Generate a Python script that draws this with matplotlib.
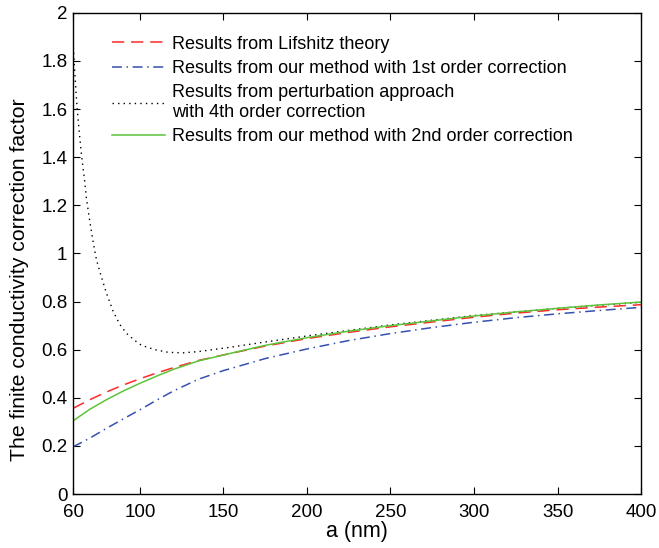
import numpy as np
import matplotlib
matplotlib.use('Agg')
import matplotlib.pyplot as plt

plt.rcParams['font.family'] = ['Liberation Sans', 'DejaVu Sans']

# Lifshitz theory, our method (1st and 2nd order) on a common grid
a = [60, 70, 80, 90, 100, 110, 120, 135, 150, 175, 200, 225, 250, 275, 300, 325, 350, 375, 400]
lifshitz = [0.356, 0.392, 0.424, 0.453, 0.479, 0.503, 0.525, 0.555, 0.578, 0.615, 0.646,
            0.672, 0.695, 0.715, 0.735, 0.752, 0.766, 0.777, 0.787]
first_order = [0.196, 0.232, 0.273, 0.312, 0.350, 0.390, 0.428, 0.477, 0.513, 0.563, 0.603,
               0.638, 0.667, 0.692, 0.714, 0.733, 0.749, 0.763, 0.776]
second_order = [0.304, 0.352, 0.392, 0.428, 0.460, 0.490, 0.518, 0.553, 0.578, 0.618, 0.650,
                0.677, 0.700, 0.720, 0.740, 0.757, 0.772, 0.786, 0.798]

# perturbation approach, 4th order (steep near small a)
a_pert = [60, 61, 62, 63, 64, 65, 66, 67, 68, 70, 72, 74, 76, 78, 80, 84, 88, 92, 97, 101,
          109, 117, 126, 135, 154, 175, 200, 250, 300, 350, 400]
pert = [1.88, 1.76, 1.65, 1.56, 1.485, 1.415, 1.355, 1.30, 1.23, 1.135, 1.05, 0.975, 0.925,
        0.88, 0.835, 0.76, 0.705, 0.668, 0.638, 0.618, 0.600, 0.589, 0.587, 0.592, 0.610,
        0.632, 0.657, 0.703, 0.742, 0.772, 0.797]

labels = ['Results from Lifshitz theory',
          'Results from our method with 1st order correction',
          'Results from perturbation approach\nwith 4th order correction',
          'Results from our method with 2nd order correction']

fig = plt.figure(figsize=(6.59, 5.48), dpi=100)
ax = fig.add_axes([0.1108, 0.0985, 0.862, 0.878])

ax.plot(a, lifshitz, color='#ff2a2a', linestyle=(0, (8, 4.5)), lw=1.1, label=labels[0])
ax.plot(a, first_order, color='#3550b0', linestyle=(0, (6.5, 3, 1, 3)), lw=1.1, label=labels[1])
ax.plot(a_pert, pert, color='black', linestyle=(0, (1, 3)), lw=1.0, label=labels[2])
ax.plot(a, second_order, color='#5cc43a', linestyle='-', lw=1.1, label=labels[3])

ax.set_xlim(60, 400)
ax.set_ylim(0, 2)
ax.set_xticks([60, 100, 150, 200, 250, 300, 350, 400])
ax.set_yticks(np.arange(0, 2.01, 0.2))
ax.set_yticklabels(['0', '0.2', '0.4', '0.6', '0.8', '1', '1.2', '1.4', '1.6', '1.8', '2'])
ax.tick_params(direction='in', top=True, right=True, length=5, width=0.8, labelsize=13.5)
ax.tick_params(axis='x', pad=7)
ax.tick_params(axis='y', pad=4)
for s in ax.spines.values():
    s.set_linewidth(1.0)

ax.set_xlabel('a (nm)', fontsize=15.5, labelpad=0)
ax.set_ylabel('The finite conductivity correction factor', fontsize=15.3)
ax.yaxis.set_label_coords(-0.077, 0.445)

ax.legend(loc='upper left', bbox_to_anchor=(0.05, 0.975), frameon=False, fontsize=13,
          handlelength=2.9, handletextpad=0.4, labelspacing=0.4, borderaxespad=0.2)

fig.savefig('out.png', dpi=100)
